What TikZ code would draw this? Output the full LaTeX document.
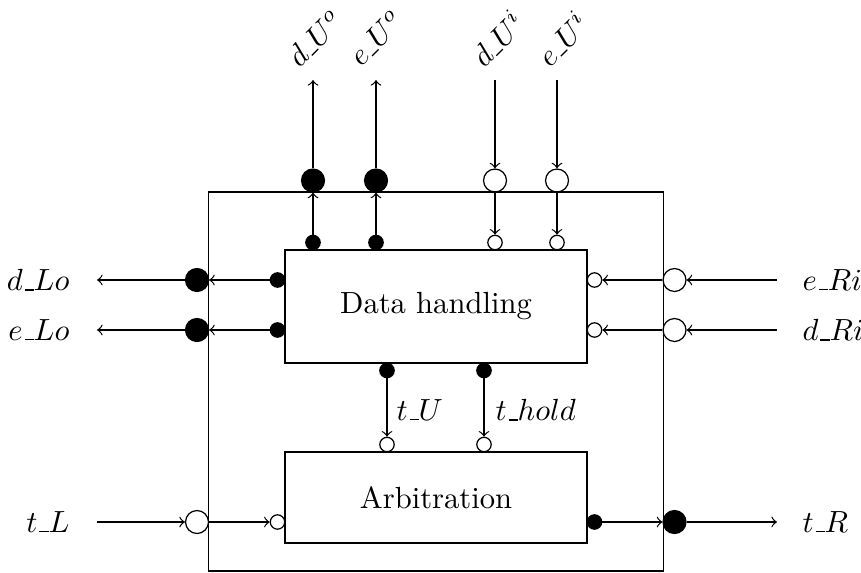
\documentclass[tikz,border=0pt]{standalone}
\newcommand{\uscore}{\kern.06em\vbox{\hrule width.3em}}
\begin{document}
\begin{tikzpicture}[x=0.3268pt,y=-0.3268pt,>=to,
  bigc/.style={circle,draw,minimum size=7.5pt,inner sep=0pt},
  smallc/.style={circle,draw,minimum size=4.7pt,inner sep=0pt},
  filled/.style={fill=black},
  blk/.style={draw,inner sep=0pt},
  lbl/.style={inner sep=0pt}]
\useasboundingbox (0,0) rectangle (861,572);
% blocks
\node[blk,minimum width={455*0.3268pt},minimum height={379*0.3268pt}] (outer) at (435.75,381.5) {};
\node[blk,minimum width={302*0.3268pt},minimum height={113*0.3268pt}] (data) at (436,306.5) {Data handling};
\node[blk,minimum width={302*0.3268pt},minimum height={91*0.3268pt}] (arb) at (436,497.5) {Arbitration};

% left outputs
\node[smallc,filled] (sdLo) at (277.5,280) {};
\node[smallc,filled] (seLo) at (277.5,330) {};
\node[bigc,filled] (bdLo) at (197,280) {};
\node[bigc,filled] (beLo) at (197,330) {};
\coordinate (edLo) at (97,280);
\coordinate (eeLo) at (97,330);
\node[lbl,anchor=east] (ldLo) at (70,280) {$d\uscore Lo$};
\node[lbl,anchor=east] (leLo) at (70,330) {$e\uscore Lo$};
\draw[->] (sdLo) -- (bdLo.east);
\draw[->] (seLo) -- (beLo.east);
\draw[->] (bdLo) -- (edLo);
\draw[->] (beLo) -- (eeLo);

% right inputs
\node[smallc] (seRi) at (594.5,280) {};
\node[smallc] (sdRi) at (594.5,330) {};
\node[bigc] (beRi) at (674.5,280) {};
\node[bigc] (bdRi) at (674.5,330) {};
\coordinate (eeRi) at (777,280);
\coordinate (edRi) at (777,330);
\node[lbl,anchor=west] (leRi) at (802,280) {$e\uscore Ri$};
\node[lbl,anchor=west] (ldRi) at (802,330) {$d\uscore Ri$};
\draw[->] (eeRi) -- (beRi);
\draw[->] (edRi) -- (bdRi);
\draw[->] (beRi) -- (seRi);
\draw[->] (bdRi) -- (sdRi);

% top outputs
\node[smallc,filled] (sdUo) at (313,242.5) {};
\node[smallc,filled] (seUo) at (376,242.5) {};
\node[bigc,filled] (bdUo) at (313,180.5) {};
\node[bigc,filled] (beUo) at (376,180.5) {};
\coordinate (edUo) at (313,80);
\coordinate (eeUo) at (376,80);
\draw[->] (sdUo) -- (bdUo.south);
\draw[->] (seUo) -- (beUo.south);
\draw[->] (bdUo) -- (edUo);
\draw[->] (beUo) -- (eeUo);
\node[lbl,rotate=45] (ldUo) at (315,38) {$d\uscore U^o$};
\node[lbl,rotate=45] (leUo) at (376,38) {$e\uscore U^o$};

% top inputs
\node[smallc] (sdUi) at (495,242.5) {};
\node[smallc] (seUi) at (557,242.5) {};
\node[bigc] (bdUi) at (495,180.5) {};
\node[bigc] (beUi) at (557,180.5) {};
\coordinate (edUi) at (495,80);
\coordinate (eeUi) at (557,80);
\draw[->] (edUi) -- (bdUi);
\draw[->] (eeUi) -- (beUi);
\draw[->] (bdUi) -- (sdUi);
\draw[->] (beUi) -- (seUi);
\node[lbl,rotate=45] (ldUi) at (497,38) {$d\uscore U^i$};
\node[lbl,rotate=45] (leUi) at (562,38) {$e\uscore U^i$};

% middle
\node[smallc,filled] (stU) at (387,370.5) {};
\node[smallc,filled] (sthold) at (484,370.5) {};
\node[smallc] (atU) at (387,444.5) {};
\node[smallc] (athold) at (484,444.5) {};
\draw[->] (stU) -- (atU);
\draw[->] (sthold) -- (athold);
\node[lbl,anchor=west] (ltU) at (396,410) {$t\uscore U$};
\node[lbl,anchor=west] (lthold) at (495,410) {$t\uscore hold$};

% bottom
\coordinate (etL) at (97,522);
\node[bigc] (btL) at (197,522) {};
\node[smallc] (stL) at (277.5,522) {};
\node[smallc,filled] (stR) at (594.5,522) {};
\node[bigc,filled] (btR) at (674.5,522) {};
\coordinate (etR) at (777,522);
\node[lbl,anchor=east] (ltL) at (70,522) {$t\uscore L$};
\node[lbl,anchor=west] (ltR) at (802,522) {$t\uscore R$};
\draw[->] (etL) -- (btL);
\draw[->] (btL) -- (stL);
\draw[->] (stR) -- (btR.west);
\draw[->] (btR) -- (etR);
\end{tikzpicture}
\end{document}
